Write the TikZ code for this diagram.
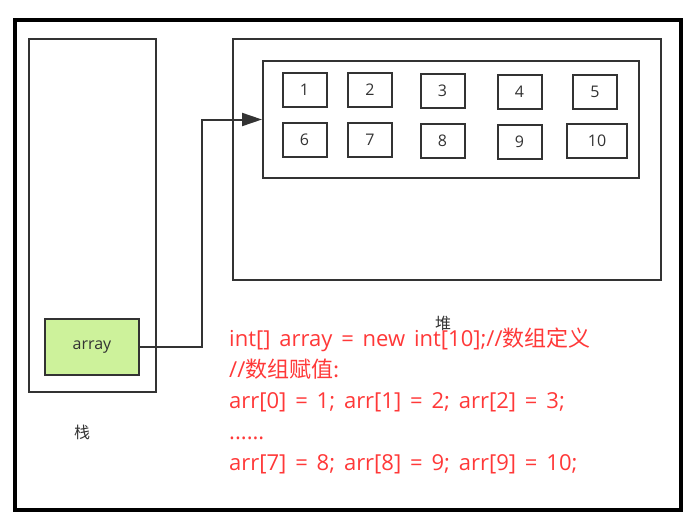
\documentclass[tikz,border=0pt]{standalone}
\usepackage{fontspec}
\setmainfont{Open Sans}[WordSpace=1.55]
\newfontfamily\cjk{Noto Sans CJK SC}
\usepackage{tikz}
\usetikzlibrary{calc,positioning,arrows.meta}
\definecolor{linegray}{HTML}{333333}
\definecolor{varfill}{HTML}{CDF29B}
\definecolor{codered}{HTML}{FF3838}
\tikzset{
  box/.style={draw=linegray,line width=2pt},
  cell/.style={box,minimum width=44pt,minimum height=34pt,inner sep=0pt,font=\fontsize{16}{16}\selectfont,text=linegray},
}
\begin{document}
\begin{tikzpicture}[x=1pt,y=-1pt]
  \useasboundingbox (0,0) rectangle (691,528);
  \draw[line width=4pt] (15,20) rectangle (681,510);
  % stack and heap
  \draw[box] (29,39) rectangle (156,392);
  \node[box,fill=white,minimum width=428pt,minimum height=241pt,inner sep=0pt] (heap) at (446.5,159.5) {};
  \node[box,minimum width=376pt,minimum height=117pt,inner sep=0pt] (inner) at (451,119.5) {};
  \foreach \n/\x/\y in {1/304.5/90,2/370/89.5,3/442.5/90.5,4/519.5/91.5,5/595/91.5,
                        6/304.5/140,7/370/139.5,8/442.5/140.5,9/519.5/141.5}{
    \node[cell] (c\n) at (\x,\y) {\n};
  }
  \node[cell,minimum width=60pt] (c10) at (597,141) {10};
  \node[box,fill=varfill,minimum width=94pt,minimum height=56pt,inner sep=0pt,
        font=\fontsize{16}{16}\selectfont,text=linegray] (var) at (92,347) {array};
  \draw[box,-{Triangle[length=20pt,width=13pt]}] (var.east) -- ++(62,0) |- (inner.west);
  \node[font=\cjk\fontsize{16}{16}\selectfont,text=linegray] (stacklbl) at (82,432) {栈};
  \node[font=\cjk\fontsize{16}{16}\selectfont,text=linegray] (heaplbl) at (443,323) {堆};
  % code text
  \node[anchor=north west,inner sep=0pt,align=left,text=codered,
        font=\fontsize{22}{31}\selectfont] (code) at (229,328) {int[] array = new int[10];//{\cjk 数组定义}\\
    //{\cjk 数组赋值:}\\
    arr[0] = 1; arr[1] = 2; arr[2] = 3;\\
    ......\\
    arr[7] = 8; arr[8] = 9; arr[9] = 10;};
\end{tikzpicture}
\end{document}
